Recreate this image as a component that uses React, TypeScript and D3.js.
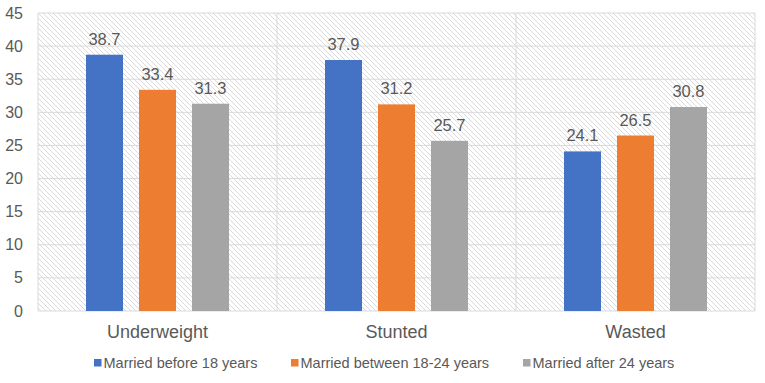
import React from "react";
import * as d3 from "d3";

const categories = ["Underweight", "Stunted", "Wasted"];
const seriesNames = ["Married before 18 years", "Married between 18-24 years", "Married after 24 years"];
const before18 = [38.7, 37.9, 24.1];
const between18to24 = [33.4, 31.2, 26.5];
const after24 = [31.3, 25.7, 30.8];
const yTicks = [0, 5, 10, 15, 20, 25, 30, 35, 40, 45];
const colors = ["#4472C4", "#ED7D31", "#A5A5A5"];

export default function App() {
  const W = 765, H = 383;
  const left = 38, right = 755, top = 13, bottom = 311;
  const series = [before18, between18to24, after24];
  const x0 = d3.scaleBand().domain(categories).range([left, right]).padding(0);
  const y = d3.scaleLinear().domain([0, 45]).range([bottom, top]);
  const barW = 37, step = 53;
  const txt = "#595959";
  const font = "Arial, 'Liberation Sans', sans-serif";
  const legendX = [94, 291, 523];
  return (
    <svg width={W} height={H} style={{ position: "absolute", left: 0, top: 0 }} fontFamily={font}>
      <defs>
        <pattern id="hatch" patternUnits="userSpaceOnUse" width="5" height="5">
          <rect width="5" height="5" fill="#ffffff" />
          <path d="M-1,-1 L6,6 M-1,4 L1,6 M4,-1 L6,1" stroke="#d6d6d6" strokeWidth="0.9" />
        </pattern>
      </defs>
      <rect x={0} y={0} width={W} height={H} fill="#fff" />
      <rect x={left} y={top} width={right - left} height={bottom - top} fill="url(#hatch)" />
      {yTicks.map((t) => (
        <g key={t}>
          <line x1={left} x2={right} y1={y(t)} y2={y(t)} stroke="#d9d9d9" strokeWidth={1} />
          <text x={23} y={y(t)} dy="0.35em" textAnchor="end" fontSize={16} fill={txt}>{t}</text>
        </g>
      ))}
      {categories.map((c) => (
        <line key={c} x1={x0(c)!} x2={x0(c)!} y1={top} y2={bottom} stroke="#d9d9d9" />
      ))}
      <line x1={right} x2={right} y1={top} y2={bottom} stroke="#d9d9d9" />
      {categories.map((c, ci) => {
        const cx = x0(c)! + x0.bandwidth() / 2;
        return (
          <g key={c}>
            {series.map((s, si) => {
              const bx = cx + (si - 1) * step - barW / 2;
              return (
                <g key={si}>
                  <rect x={bx} y={y(s[ci])} width={barW} height={y(0) - y(s[ci])} fill={colors[si]} />
                  <text x={bx + barW / 2} y={y(s[ci]) - 10} textAnchor="middle" fontSize={16.5} fill={txt}>{s[ci].toFixed(1)}</text>
                </g>
              );
            })}
            <text x={cx} y={338} textAnchor="middle" fontSize={18} fill={txt}>{c}</text>
          </g>
        );
      })}
      {seriesNames.map((n, i) => (
        <g key={n}>
          <rect x={legendX[i]} y={359} width={7.5} height={7.5} fill={colors[i]} />
          <text x={legendX[i] + 9.5} y={363} dy="0.35em" fontSize={14.5} fill={txt}>{n}</text>
        </g>
      ))}
    </svg>
  );
}
